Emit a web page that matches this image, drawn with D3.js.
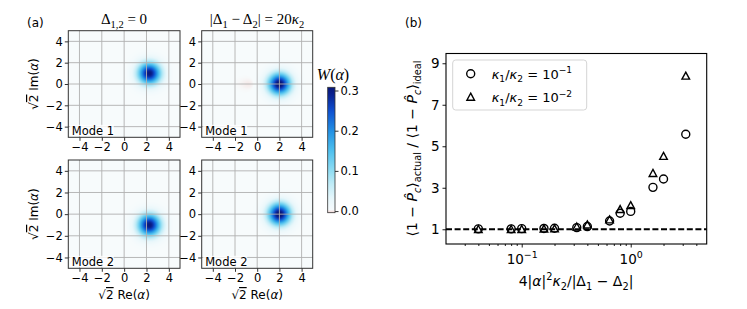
<!DOCTYPE html>
<html>
<head>
<meta charset="utf-8">
<script src="https://cdn.jsdelivr.net/npm/d3@7"></script>
<style>
body { margin: 0; background: #fff; }
text { font-family: "DejaVu Sans", sans-serif; fill: #000; }
.serif { font-family: "Liberation Serif", "DejaVu Serif", serif; }
</style>
</head>
<body>
<svg id="fig" width="747" height="309"></svg>
<script>
// ---- panel (a): Wigner functions of the two modes ----
var phaseTicks = [-4, -2, 0, 2, 4];
var modeNames = ["Mode 1", "Mode 2"];
// coherent-state centres, [mode][column]
var blobRe = [[2.25, 2.0], [2.25, 2.0]];
var blobIm = [[1.0, 0.0], [-1.0, 0.0]];
var blobPeak = [[0.305, 0.318], [0.305, 0.318]];
// faint negative patch (only top-right map)
var dipRe = [[0, -0.7], [0, 0]];
var dipAmp = [[0, -0.0018], [0, 0]];
var cbarTicks = [0.0, 0.1, 0.2, 0.3];

// ---- panel (b) ----
var ratio = [0.04, 0.08, 0.1, 0.16, 0.2, 0.32, 0.4, 0.64, 0.8, 1.0, 1.6, 2.0, 3.2];
var errK1 = [1.02, 1.02, 1.03, 1.04, 1.05, 1.08, 1.13, 1.40, 1.77, 1.86, 3.02, 3.42, 5.58]; // kappa1/kappa2 = 1e-1
var errK2 = [1.0, 1.0, 1.0, 1.02, 1.03, 1.12, 1.22, 1.46, 1.96, 2.15, 3.70, 4.52, 8.39];   // kappa1/kappa2 = 1e-2
var yTicksB = [1, 3, 5, 7, 9];
var xMajorB = [0.1, 1];

var svg = d3.select("#fig");

// small helper for mathtext-like labels
function mtext(sel, parts, size) {
  var off = 0;
  parts.forEach(function(p) {
    if (typeof p === "string") p = {t: p};
    var target = p.sub ? 0.28 * size : (p.sup ? -0.42 * size : 0);
    var ts = sel.append("tspan").text(p.t)
      .attr("dy", target - off)
      .style("font-size", (p.sub || p.sup) ? (0.7 * size) + "px" : size + "px");
    if (p.i) ts.style("font-style", "italic");
    if (p.o) ts.style("text-decoration", "overline");
    off = target;
  });
  return sel;
}

var cmap = d3.scaleLinear()
  .domain([-0.01, 0, 0.03, 0.07, 0.1, 0.15, 0.2, 0.25, 0.29, 0.32])
  .range(["#f09a90", "#f7fbfc", "#e8f7fb", "#bdebf7", "#90ddf3", "#4ec0ee", "#2290e4", "#0e4fd0", "#0a2290", "#080f66"])
  .clamp(true);

var colX = [[68.3, 180], [201.7, 312.7]];
var rowY = [[30.7, 137.3], [160, 268.3]];

for (var m = 0; m < 2; m++) {
  for (var c = 0; c < 2; c++) {
    drawMap(m, c);
  }
}

function drawMap(m, c) {
  var xs = d3.scaleLinear().domain([-5, 5]).range(colX[c]);
  var ys = d3.scaleLinear().domain([-5, 5]).range([rowY[m][1], rowY[m][0]]);
  var g = svg.append("g");

  // raster of W(alpha)
  var n = 160;
  var cell = d3.scaleLinear().domain([0, n]).range([-5, 5]);
  var cv = document.createElement("canvas");
  cv.width = n; cv.height = n;
  var ctx = cv.getContext("2d");
  var img = ctx.createImageData(n, n);
  for (var j = 0; j < n; j++) {
    for (var i = 0; i < n; i++) {
      var re = cell(i + 0.5), im = -cell(j + 0.5);
      var dr = re - blobRe[m][c], di = im - blobIm[m][c];
      var w = blobPeak[m][c] * Math.exp(-(dr * dr + di * di));
      var nr = (re - dipRe[m][c]) / 0.8, ni = im / 0.45;
      w += dipAmp[m][c] * Math.exp(-(nr * nr + ni * ni));
      var col = d3.rgb(cmap(w));
      var k = 4 * (j * n + i);
      img.data[k] = col.r; img.data[k + 1] = col.g; img.data[k + 2] = col.b; img.data[k + 3] = 255;
    }
  }
  ctx.putImageData(img, 0, 0);
  g.append("image")
    .attr("href", cv.toDataURL())
    .attr("x", xs(-5)).attr("y", ys(5))
    .attr("width", xs(5) - xs(-5)).attr("height", ys(-5) - ys(5))
    .attr("preserveAspectRatio", "none");

  // grid on top
  g.selectAll(".gx").data(phaseTicks).enter().append("line")
    .attr("x1", function(d) { return xs(d); }).attr("x2", function(d) { return xs(d); })
    .attr("y1", ys(-5)).attr("y2", ys(5))
    .attr("stroke", "#b0b0b0").attr("stroke-width", 0.9);
  g.selectAll(".gy").data(phaseTicks).enter().append("line")
    .attr("y1", function(d) { return ys(d); }).attr("y2", function(d) { return ys(d); })
    .attr("x1", xs(-5)).attr("x2", xs(5))
    .attr("stroke", "#b0b0b0").attr("stroke-width", 0.9);

  // mode label
  g.append("rect").attr("x", xs(-5) + 1.5).attr("y", ys(-5) - 12.5)
    .attr("width", 44).attr("height", 11.5).attr("fill", "#fff").attr("opacity", 0.8);
  g.append("text").attr("x", xs(-5) + 3.5).attr("y", ys(-5) - 2)
    .style("font-size", "11.5px").text(modeNames[m]);

  g.append("rect").attr("x", xs(-5)).attr("y", ys(5))
    .attr("width", xs(5) - xs(-5)).attr("height", ys(-5) - ys(5))
    .attr("fill", "none").attr("stroke", "#333").attr("stroke-width", 1);

  var ax = g.append("g").attr("transform", "translate(0," + ys(-5) + ")")
    .call(d3.axisBottom(xs).tickValues(phaseTicks).tickSize(3.5).tickPadding(2).tickFormat(d3.format("d")));
  var ay = g.append("g").attr("transform", "translate(" + xs(-5) + ",0)")
    .call(d3.axisLeft(ys).tickValues(phaseTicks).tickSize(3.5).tickPadding(2).tickFormat(d3.format("d")));
  [ax, ay].forEach(function(a) {
    a.select(".domain").remove();
    a.selectAll("line").attr("stroke", "#333");
    a.selectAll("text").style("font-size", "11.5px").style("font-family", "DejaVu Sans");
  });
  ax.selectAll("text").text(function(d) { return d < 0 ? "\u2212" + (-d) : d; });
  ay.selectAll("text").text(function(d) { return d < 0 ? "\u2212" + (-d) : d; });

  if (c === 0) {
    var yl = g.append("text").attr("text-anchor", "middle")
      .attr("transform", "translate(38," + ((ys(5) + ys(-5)) / 2) + ") rotate(-90)");
    mtext(yl, ["\u221A", {t: "2", o: 1}, " Im(", {t: "\u03B1", i: 1}, ")"], 12);
  }
  if (m === 1) {
    var xl = g.append("text").attr("text-anchor", "middle")
      .attr("x", (xs(-5) + xs(5)) / 2).attr("y", 299);
    mtext(xl, ["\u221A", {t: "2", o: 1}, " Re(", {t: "\u03B1", i: 1}, ")"], 12);
  }
}

// column titles
var t1 = svg.append("text").attr("class", "serif").attr("text-anchor", "middle").attr("x", 124).attr("y", 24);
mtext(t1, ["\u0394", {t: "1,2", sub: 1}, " = 0"], 15);
var t2 = svg.append("text").attr("class", "serif").attr("text-anchor", "middle").attr("x", 257).attr("y", 24);
mtext(t2, ["|\u0394", {t: "1", sub: 1}, " \u2212 \u0394", {t: "2", sub: 1}, "| = 20", {t: "\u03BA", i: 1}, {t: "2", sub: 1}], 15);

svg.append("text").attr("x", 27).attr("y", 27).style("font-size", "12px").text("(a)");
svg.append("text").attr("x", 405).attr("y", 27).style("font-size", "12px").text("(b)");

// colour bar
var cbY = d3.scaleLinear().domain([-0.004, 0.308]).range([212.7, 87.3]);
var grad = svg.append("defs").append("linearGradient").attr("id", "cbg")
  .attr("x1", 0).attr("y1", 1).attr("x2", 0).attr("y2", 0);
d3.range(0, 41).forEach(function(k) {
  var v = cbY.domain()[0] + (cbY.domain()[1] - cbY.domain()[0]) * k / 40;
  grad.append("stop").attr("offset", k / 40).attr("stop-color", cmap(v));
});
svg.append("rect").attr("x", 327.7).attr("y", 87.3).attr("width", 7.3).attr("height", 125.4)
  .attr("fill", "url(#cbg)").attr("stroke", "#333").attr("stroke-width", 0.8);
var cax = svg.append("g").attr("transform", "translate(335,0)")
  .call(d3.axisRight(cbY).tickValues(cbarTicks).tickSize(3.5).tickPadding(2).tickFormat(d3.format(".1f")));
cax.select(".domain").remove();
cax.selectAll("line").attr("stroke", "#333");
cax.selectAll("text").style("font-size", "11.5px").style("font-family", "DejaVu Sans");
var wt = svg.append("text").attr("class", "serif").attr("text-anchor", "middle").attr("x", 333).attr("y", 80);
mtext(wt, [{t: "W", i: 1}, "(", {t: "\u03B1", i: 1}, ")"], 16);

// ---- panel (b) ----
var xB = d3.scaleLog().domain([0.0202, 4.98]).range([446, 706.7]);
var yB = d3.scaleLinear().domain([0.29, 9.47]).range([244, 53.5]);
var gb = svg.append("g");

gb.append("line").attr("x1", xB.range()[0]).attr("x2", xB.range()[1])
  .attr("y1", yB(1)).attr("y2", yB(1))
  .attr("stroke", "#000").attr("stroke-width", 1.8).attr("stroke-dasharray", "6,2.6");

gb.selectAll(".c1").data(ratio).enter().append("circle")
  .attr("cx", function(d) { return xB(d); })
  .attr("cy", function(d, i) { return yB(errK1[i]); })
  .attr("r", 4).attr("fill", "none").attr("stroke", "#000").attr("stroke-width", 1.4);

var tri = "M0,-3.8L3.8,3.2L-3.8,3.2Z";
gb.selectAll(".c2").data(ratio).enter().append("path")
  .attr("d", tri)
  .attr("transform", function(d, i) { return "translate(" + xB(d) + "," + yB(errK2[i]) + ")"; })
  .attr("fill", "none").attr("stroke", "#000").attr("stroke-width", 1.4).attr("stroke-linejoin", "miter");

gb.append("rect").attr("x", 446).attr("y", 53.5).attr("width", 260.7).attr("height", 190.5)
  .attr("fill", "none").attr("stroke", "#000").attr("stroke-width", 1.1);

var minorB = [];
[0.01, 0.1, 1].forEach(function(dec) {
  d3.range(2, 10).forEach(function(k) {
    var v = dec * k;
    if (v > xB.domain()[0] && v < xB.domain()[1]) minorB.push(v);
  });
});
var axb = gb.append("g").attr("transform", "translate(0,244)")
  .call(d3.axisBottom(xB).tickValues(xMajorB).tickSize(3.5).tickPadding(3).tickFormat(""));
var axm = gb.append("g").attr("transform", "translate(0,244)")
  .call(d3.axisBottom(xB).tickValues(minorB).tickSize(2).tickFormat(""));
var ayb = gb.append("g").attr("transform", "translate(446,0)")
  .call(d3.axisLeft(yB).tickValues(yTicksB).tickSize(3.5).tickPadding(3));
[axb, axm, ayb].forEach(function(a) {
  a.select(".domain").remove();
  a.selectAll("line").attr("stroke", "#000").attr("stroke-width", 0.9);
});
ayb.selectAll("text").style("font-size", "13.5px").style("font-family", "DejaVu Sans");
axb.selectAll(".tick").each(function(d) {
  var t = d3.select(this).append("text").attr("y", 20).attr("text-anchor", "middle")
    .style("font-size", "13.5px");
  mtext(t, ["10", {t: d < 1 ? "\u22121" : "0", sup: 1}], 13.5);
});

// legend
gb.append("rect").attr("x", 452.7).attr("y", 60).attr("width", 134).attr("height", 50).attr("rx", 3)
  .attr("fill", "#fff").attr("fill-opacity", 0.8).attr("stroke", "#d0d0d0").attr("stroke-width", 0.9);
gb.append("circle").attr("cx", 470.7).attr("cy", 73.7).attr("r", 4)
  .attr("fill", "none").attr("stroke", "#000").attr("stroke-width", 1.4);
gb.append("path").attr("d", tri).attr("transform", "translate(470.7,97)")
  .attr("fill", "none").attr("stroke", "#000").attr("stroke-width", 1.4);
[["\u22121", 78.5], ["\u22122", 102]].forEach(function(e) {
  var t = gb.append("text").attr("x", 491.7).attr("y", e[1]);
  mtext(t, [{t: "\u03BA", i: 1}, {t: "1", sub: 1}, "/", {t: "\u03BA", i: 1}, {t: "2", sub: 1}, " = 10", {t: e[0], sup: 1}], 13);
});

var ylb = gb.append("text").attr("text-anchor", "middle")
  .attr("transform", "translate(417,148.5) rotate(-90)");
mtext(ylb, ["\u27E81 \u2212 ", {t: "P\u0302", i: 1}, {t: "c", i: 1, sub: 1}, "\u27E9", {t: "actual", sub: 1},
  " / \u27E81 \u2212 ", {t: "P\u0302", i: 1}, {t: "c", i: 1, sub: 1}, "\u27E9", {t: "ideal", sub: 1}], 14);

var xlb = gb.append("text").attr("text-anchor", "middle").attr("x", 576).attr("y", 286);
mtext(xlb, ["4|", {t: "\u03B1", i: 1}, "|", {t: "2", sup: 1}, {t: "\u03BA", i: 1}, {t: "2", sub: 1},
  "/|\u0394", {t: "1", sub: 1}, " \u2212 \u0394", {t: "2", sub: 1}, "|"], 14);
</script>
</body>
</html>
